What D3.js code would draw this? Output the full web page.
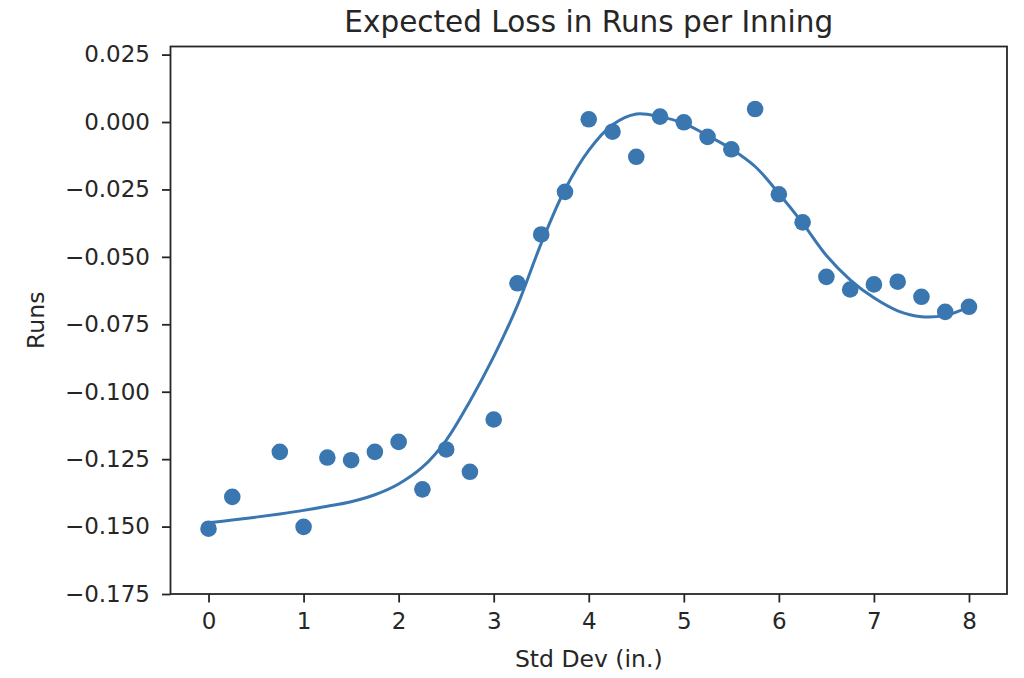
<!DOCTYPE html>
<html>
<head>
<meta charset="utf-8">
<script src="https://cdn.jsdelivr.net/npm/d3@7"></script>
<style>
  html, body { margin: 0; padding: 0; background: #fff; }
  svg text { font-family: "DejaVu Sans", sans-serif; fill: #262626; }
</style>
</head>
<body>
<svg id="chart" width="1024" height="678"></svg>
<script>
// Scatter data (std dev in inches -> expected runs)
const pointX = [0, 0.25, 0.75, 1.0, 1.25, 1.5, 1.75, 2.0, 2.25, 2.5, 2.75, 3.0,
  3.25, 3.5, 3.75, 4.0, 4.25, 4.5, 4.75, 5.0, 5.25, 5.5, 5.75, 6.0, 6.25, 6.5,
  6.75, 7.0, 7.25, 7.5, 7.75, 8.0];
const pointY = [-0.1508, -0.1390, -0.1223, -0.1501, -0.1244, -0.1254, -0.1223, -0.1186,
  -0.1362, -0.1214, -0.1297, -0.1103, -0.0598, -0.0417, -0.0259, 0.0010, -0.0036,
  -0.0129, 0.0020, -0.0001, -0.0055, -0.0101, 0.0048, -0.0268, -0.0372, -0.0574,
  -0.0621, -0.0602, -0.0592, -0.0648, -0.0704, -0.0685];

// Smoothed fit line
const lineX = [0, 0.25, 0.5, 0.75, 1.0, 1.25, 1.5, 1.75, 2.0, 2.25, 2.5, 2.75, 3.0,
  3.25, 3.5, 3.75, 4.0, 4.25, 4.5, 4.75, 5.0, 5.25, 5.5, 5.75, 6.0, 6.25, 6.5,
  6.75, 7.0, 7.25, 7.5, 7.75, 8.0];
const lineY = [-0.1486, -0.1476, -0.1465, -0.1453, -0.1440, -0.1425, -0.1408, -0.1382,
  -0.1342, -0.1280, -0.1180, -0.1035, -0.0870, -0.0680, -0.0450, -0.0250, -0.0105,
  -0.0010, 0.0030, 0.0020, -0.0005, -0.0050, -0.0100, -0.0165, -0.0265, -0.0375,
  -0.0495, -0.0585, -0.0652, -0.0700, -0.0722, -0.0717, -0.0685];

const xTicks = [0, 1, 2, 3, 4, 5, 6, 7, 8];
const yTicks = [0.025, 0.0, -0.025, -0.05, -0.075, -0.1, -0.125, -0.15, -0.175];

const titleText = "Expected Loss in Runs per Inning";
const xLabel = "Std Dev (in.)";
const yLabel = "Runs";

const color = "#3a76b0";
const mLeft = 170.5, mRight = 1007, mTop = 46.5, mBottom = 594;

const svg = d3.select("#chart");
const x = d3.scaleLinear().domain([-0.4, 8.4]).range([mLeft, mRight]);
const y = d3.scaleLinear().domain([-0.175, 0.028]).range([mBottom, mTop]);

const fmt = v => { const s = d3.format(".3f")(Math.abs(v)); return (v < -1e-9 ? "\u2212" : "") + s; };

// line
const line = d3.line().x((d, i) => x(lineX[i])).y((d, i) => y(lineY[i])).curve(d3.curveCatmullRom.alpha(0.5));
svg.append("path").datum(lineY).attr("d", line)
  .attr("fill", "none").attr("stroke", color).attr("stroke-width", 3);

// points
svg.append("g").selectAll("circle").data(pointY).join("circle")
  .attr("cx", (d, i) => x(pointX[i])).attr("cy", d => y(d))
  .attr("r", 8.3).attr("fill", color);

// axes
const xAxis = d3.axisBottom(x).tickValues(xTicks).tickSize(8.5).tickPadding(10).tickFormat(d3.format("d"));
const gx = svg.append("g").attr("transform", `translate(0,${mBottom})`).call(xAxis);
const yAxis = d3.axisLeft(y).tickValues(yTicks).tickSize(8.5).tickPadding(12).tickFormat(fmt);
const gy = svg.append("g").attr("transform", `translate(${mLeft},0)`).call(yAxis);
[gx, gy].forEach(g => {
  g.select(".domain").remove();
  g.selectAll(".tick line").attr("stroke", "#262626").attr("stroke-width", 1.8);
  g.selectAll(".tick text").attr("font-size", 23).attr("fill", "#262626")
    .style("font-family", "'DejaVu Sans', sans-serif");
});

// frame
svg.append("rect").attr("x", mLeft).attr("y", mTop).attr("width", mRight - mLeft).attr("height", mBottom - mTop)
  .attr("fill", "none").attr("stroke", "#262626").attr("stroke-width", 1.8);

// title & labels
svg.append("text").attr("x", (mLeft + mRight) / 2).attr("y", 32).attr("text-anchor", "middle")
  .attr("font-size", 29.5).text(titleText);
svg.append("text").attr("x", (mLeft + mRight) / 2).attr("y", 667).attr("text-anchor", "middle")
  .attr("font-size", 23.5).text(xLabel);
svg.append("text").attr("transform", `translate(44,${(mTop + mBottom) / 2}) rotate(-90)`)
  .attr("text-anchor", "middle").attr("font-size", 23.5).text(yLabel);
</script>
</body>
</html>
